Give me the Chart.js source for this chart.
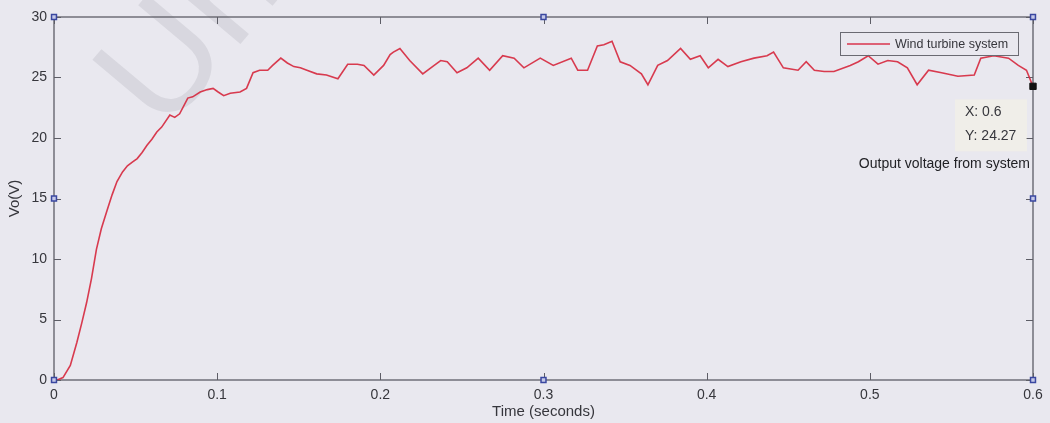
<!DOCTYPE html>
<html><head><meta charset="utf-8">
<script src="https://cdn.jsdelivr.net/npm/chart.js@4.4.1/dist/chart.umd.min.js"></script>
<style>html,body{margin:0;padding:0;background:#e9e8ef;}canvas{display:block;}</style>
</head><body>
<canvas id="c" width="1050" height="423"></canvas>
<script>
const timeSeconds = [0,0.002,0.0055,0.010,0.014,0.017,0.020,0.023,0.026,0.029,
  0.0325,0.0356,0.0386,0.042,0.045,0.048,0.051,0.054,0.057,0.060,
  0.063,0.066,0.071,0.074,0.077,0.082,0.085,0.0896,0.094,0.0975,
  0.1006,0.104,0.108,0.114,0.118,0.122,0.126,0.131,0.134,0.139,
  0.143,0.147,0.151,0.155,0.161,0.167,0.174,0.180,0.186,0.190,
  0.196,0.202,0.206,0.208,0.212,0.218,0.226,0.233,0.237,0.241,
  0.247,0.253,0.260,0.267,0.275,0.282,0.288,0.298,0.306,0.317,
  0.321,0.327,0.333,0.337,0.342,0.347,0.353,0.360,0.364,0.370,
  0.376,0.384,0.390,0.396,0.401,0.407,0.413,0.421,0.429,0.437,
  0.441,0.447,0.456,0.461,0.466,0.472,0.478,0.488,0.493,0.499,
  0.505,0.511,0.517,0.523,0.529,0.536,0.544,0.554,0.564,0.568,
  0.576,0.585,0.591,0.596,0.600];
const outputVoltage = [0,0,0.2,1.2,3.1,4.7,6.4,8.4,10.8,12.5,
  14.0,15.3,16.4,17.2,17.7,18.0,18.3,18.8,19.4,19.9,
  20.5,20.9,21.9,21.7,22.0,23.3,23.4,23.8,24.0,24.1,
  23.8,23.5,23.7,23.8,24.1,25.4,25.6,25.6,26.0,26.6,
  26.2,25.9,25.8,25.6,25.3,25.2,24.9,26.1,26.1,26.0,
  25.2,26.0,26.9,27.1,27.4,26.4,25.3,26.0,26.4,26.3,
  25.4,25.8,26.6,25.6,26.8,26.6,25.8,26.6,26.0,26.6,
  25.6,25.6,27.6,27.7,28.0,26.3,26.0,25.3,24.4,26.0,
  26.4,27.4,26.5,26.8,25.8,26.5,25.9,26.3,26.6,26.8,
  27.1,25.8,25.6,26.3,25.6,25.5,25.5,26.0,26.3,26.8,
  26.1,26.4,26.3,25.8,24.4,25.6,25.4,25.1,25.2,26.6,
  26.8,26.6,26.0,25.6,24.27];
const xTickValues = [0,0.1,0.2,0.3,0.4,0.5,0.6];
const yTickValues = [0,5,10,15,20,25,30];
const handleTimes = [0,0.3,0.6,0,0.6,0,0.3,0.6];
const handleVolts = [30,30,30,15,15,0,0,0];
const tipTime = [0.6];
const tipVolt = [24.27];
const seriesLabel = 'Wind turbine system';
const xTitle = 'Time (seconds)';
const yTitle = 'Vo(V)';
const noteText = 'Output voltage from system';
const watermarkText = 'Uni';

const FONT = '"Liberation Sans", Arial, sans-serif';
const TXT = '#36363c';

const zip = (xs, ys) => xs.map((x, i) => ({x, y: ys[i]}));

const decor = {
  id: 'decor',
  beforeDraw(chart) {
    const c = chart.ctx;
    c.save();
    c.fillStyle = '#e9e8ef';
    c.fillRect(0, 0, chart.width, chart.height);
    c.restore();
  },
  beforeDatasetsDraw(chart) {
    const c = chart.ctx, a = chart.chartArea;
    const xs = chart.scales.x, ys = chart.scales.y;
    // watermark
    c.save();
    c.translate(a.left + 110, a.top + 118);
    c.rotate(-50 * Math.PI / 180);
    c.font = '150px ' + FONT;
    c.fillStyle = 'rgba(150,150,160,0.2)';
    c.textBaseline = 'alphabetic';
    c.fillText(watermarkText, 0, 0);
    c.restore();
    // box
    c.save();
    c.strokeStyle = '#5d5d66';
    c.lineWidth = 1.3;
    c.strokeRect(a.left, a.top, a.right - a.left, a.bottom - a.top);
    c.lineWidth = 1;
    c.beginPath();
    const tl = 7;
    xTickValues.forEach(v => {
      const px = Math.round(xs.getPixelForValue(v)) + 0.5;
      c.moveTo(px, a.bottom); c.lineTo(px, a.bottom - tl);
      c.moveTo(px, a.top); c.lineTo(px, a.top + tl);
    });
    yTickValues.forEach(v => {
      const py = Math.round(ys.getPixelForValue(v)) + 0.5;
      c.moveTo(a.left, py); c.lineTo(a.left + tl, py);
      c.moveTo(a.right, py); c.lineTo(a.right - tl, py);
    });
    c.stroke();
    c.restore();
  },
  afterDraw(chart) {
    const c = chart.ctx, a = chart.chartArea;
    const xs = chart.scales.x, ys = chart.scales.y;
    // legend
    c.save();
    const lx = a.right - 193, ly = a.top + 15, lw = 178, lh = 23;
    c.strokeStyle = '#6a6a72';
    c.lineWidth = 1;
    c.strokeRect(lx + 0.5, ly + 0.5, lw, lh);
    c.strokeStyle = '#d9344c';
    c.lineWidth = 1.3;
    c.beginPath();
    c.moveTo(lx + 7, ly + lh / 2 + 0.5); c.lineTo(lx + 50, ly + lh / 2 + 0.5);
    c.stroke();
    c.fillStyle = TXT;
    c.font = '12.5px ' + FONT;
    c.textBaseline = 'middle';
    c.fillText(seriesLabel, lx + 55, ly + lh / 2 + 1);
    // datatip
    const tx = xs.getPixelForValue(tipTime[0]);
    const ty = ys.getPixelForValue(tipVolt[0]);
    c.fillStyle = 'rgba(245,242,228,0.55)';
    c.fillRect(tx - 78, ty + 13, 72, 52);
    c.fillStyle = TXT;
    c.font = '14px ' + FONT;
    c.textAlign = 'left';
    c.fillText('X: ' + tipTime[0], tx - 68, ty + 26);
    c.fillText('Y: ' + tipVolt[0], tx - 68, ty + 50);
    c.textAlign = 'right';
    c.fillStyle = '#222226';
    c.fillText(noteText, tx - 3, ty + 78);
    c.restore();
  }
};

new Chart(document.getElementById('c'), {
  type: 'line',
  data: {
    datasets: [
      {
        label: seriesLabel,
        data: zip(timeSeconds, outputVoltage),
        borderColor: 'rgba(214,42,64,0.92)',
        borderWidth: 1.6,
        pointRadius: 0,
        tension: 0,
        order: 2
      },
      {
        label: 'handles',
        data: zip(handleTimes, handleVolts),
        showLine: false,
        clip: false,
        pointStyle: 'rect',
        pointRadius: 3.5,
        borderColor: '#3a47a0',
        backgroundColor: '#c4c8e8',
        borderWidth: 1.5,
        order: 1
      },
      {
        label: 'datatip',
        data: zip(tipTime, tipVolt),
        showLine: false,
        clip: false,
        pointStyle: 'rect',
        pointRadius: 4.5,
        borderColor: '#111',
        backgroundColor: '#111',
        order: 0
      }
    ]
  },
  options: {
    responsive: false,
    devicePixelRatio: 1,
    animation: false,
    events: [],
    layout: { padding: { left: 0, right: 17, top: 17, bottom: 0 } },
    plugins: { legend: { display: false }, tooltip: { enabled: false } },
    scales: {
      x: {
        type: 'linear', min: 0, max: 0.6,
        afterBuildTicks: s => { s.ticks = xTickValues.map(v => ({value: v})); },
        afterFit: s => { s.height = 43; },
        grid: { display: false, drawTicks: false },
        border: { display: false },
        ticks: {
          padding: 7, color: TXT, font: { family: FONT, size: 14 },
          maxRotation: 0, autoSkip: false,
          callback: v => String(Number(v.toFixed(1)))
        },
        title: { display: true, text: xTitle, color: TXT, font: { family: FONT, size: 15 }, padding: { top: 0, bottom: 2 } }
      },
      y: {
        type: 'linear', min: 0, max: 30,
        afterBuildTicks: s => { s.ticks = yTickValues.map(v => ({value: v})); },
        afterFit: s => { s.width = 54; },
        grid: { display: false, drawTicks: false },
        border: { display: false },
        ticks: { padding: 7, color: TXT, font: { family: FONT, size: 14 }, autoSkip: false },
        title: { display: true, text: yTitle, color: TXT, font: { family: FONT, size: 15 }, padding: { top: 6, bottom: 0 } }
      }
    }
  },
  plugins: [decor]
});
</script>
</body></html>
